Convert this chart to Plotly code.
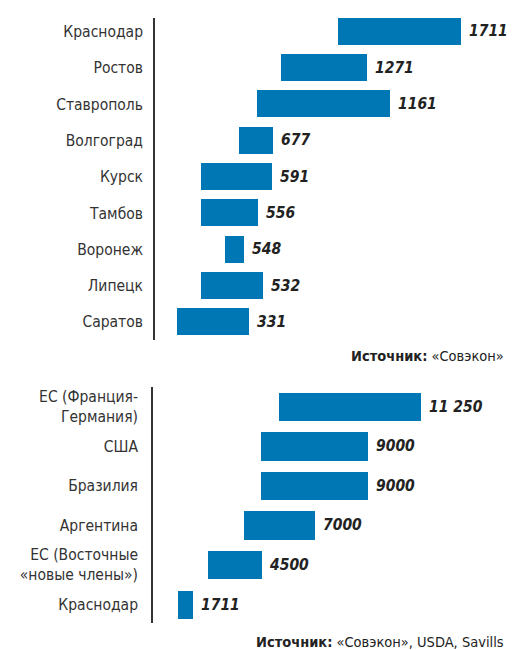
import plotly.graph_objects as go

W, H = 517, 650

# ---- data: top panel (Russian regions) ----
top_regions = ["Краснодар", "Ростов", "Ставрополь", "Волгоград", "Курск",
               "Тамбов", "Воронеж", "Липецк", "Саратов"]
top_values = ["1711", "1271", "1161", "677", "591", "556", "548", "532", "331"]
top_low = [184, 127, 103, 85, 47, 47, 71, 47, 23]
top_high = [307, 213, 236, 119, 118, 104, 90, 109, 95]

# ---- data: bottom panel (countries) ----
bot_regions = ["ЕС (Франция-<br>Германия)", "США", "Бразилия", "Аргентина",
               "ЕС (Восточные<br>«новые члены»)", "Краснодар"]
bot_values = ["11 250", "9000", "9000", "7000", "4500", "1711"]
bot_low = [127, 109, 109, 92, 56, 26]
bot_high = [269, 216, 216, 163, 110, 41]

source_top = "<b>Источник:</b> «Совэкон»"
source_bot = "<b>Источник:</b> «Совэкон», USDA, Savills"

BAR = "#0077b5"
FONT = "Liberation Sans Narrow, Arial Narrow, DejaVu Sans Condensed, sans-serif"

def py(p):
    return 1 - p / H

fig = go.Figure()

fig.add_trace(go.Bar(
    y=top_regions, x=[h - l for l, h in zip(top_low, top_high)], base=top_low,
    orientation="h", marker=dict(color=BAR, line=dict(width=0)), width=0.74,
    xaxis="x", yaxis="y", hoverinfo="skip", showlegend=False))
fig.add_trace(go.Bar(
    y=bot_regions, x=[h - l for l, h in zip(bot_low, bot_high)], base=bot_low,
    orientation="h", marker=dict(color=BAR, line=dict(width=0)), width=0.72,
    xaxis="x2", yaxis="y2", hoverinfo="skip", showlegend=False))

valfont = dict(family=FONT, size=15.5, color="#222", weight="bold", style="italic")
annotations = []
for r, v, h in zip(top_regions, top_values, top_high):
    annotations.append(dict(x=h, y=r, xref="x", yref="y", text=v, showarrow=False,
                            xanchor="left", xshift=6, font=valfont))
for r, v, h in zip(bot_regions, bot_values, bot_high):
    annotations.append(dict(x=h, y=r, xref="x2", yref="y2", text=v, showarrow=False,
                            xanchor="left", xshift=6, font=valfont))
annotations.append(dict(x=506 / W, y=py(356), xref="paper", yref="paper",
                        text=source_top, showarrow=False, xanchor="right", yanchor="middle",
                        font=dict(family=FONT, size=14.5, color="#222")))
annotations.append(dict(x=506 / W, y=py(642), xref="paper", yref="paper",
                        text=source_bot, showarrow=False, xanchor="right", yanchor="middle",
                        font=dict(family=FONT, size=14.5, color="#222")))

shapes = [
    dict(type="line", xref="paper", yref="paper", x0=154 / W, x1=154 / W,
         y0=py(18), y1=py(340), line=dict(color="#333", width=2)),
    dict(type="line", xref="paper", yref="paper", x0=152 / W, x1=152 / W,
         y0=py(387), y1=py(623), line=dict(color="#333", width=2)),
]

tickfont = dict(family=FONT, size=15.5, color="#333")

fig.update_layout(
    width=W, height=H, margin=dict(l=0, r=0, t=0, b=0),
    paper_bgcolor="white", plot_bgcolor="white",
    xaxis=dict(domain=[154 / W, 1], range=[0, 363], visible=False, fixedrange=True),
    yaxis=dict(domain=[py(340.2), py(13.3)], anchor="x", autorange="reversed",
               type="category", showgrid=False, zeroline=False, showline=False,
               ticks="", ticklabelstandoff=10, tickfont=tickfont),
    xaxis2=dict(domain=[152 / W, 1], range=[0, 365], visible=False, anchor="y2"),
    yaxis2=dict(domain=[py(624.3), py(386.7)], anchor="x2", autorange="reversed",
                type="category", showgrid=False, zeroline=False, showline=False,
                ticks="", ticklabelstandoff=13, tickfont=tickfont),
    annotations=annotations, shapes=shapes, bargap=0,
)

fig.write_html("out.html", config={"displayModeBar": False},
               post_script="document.body.style.margin='0px';document.body.style.overflow='hidden';")
